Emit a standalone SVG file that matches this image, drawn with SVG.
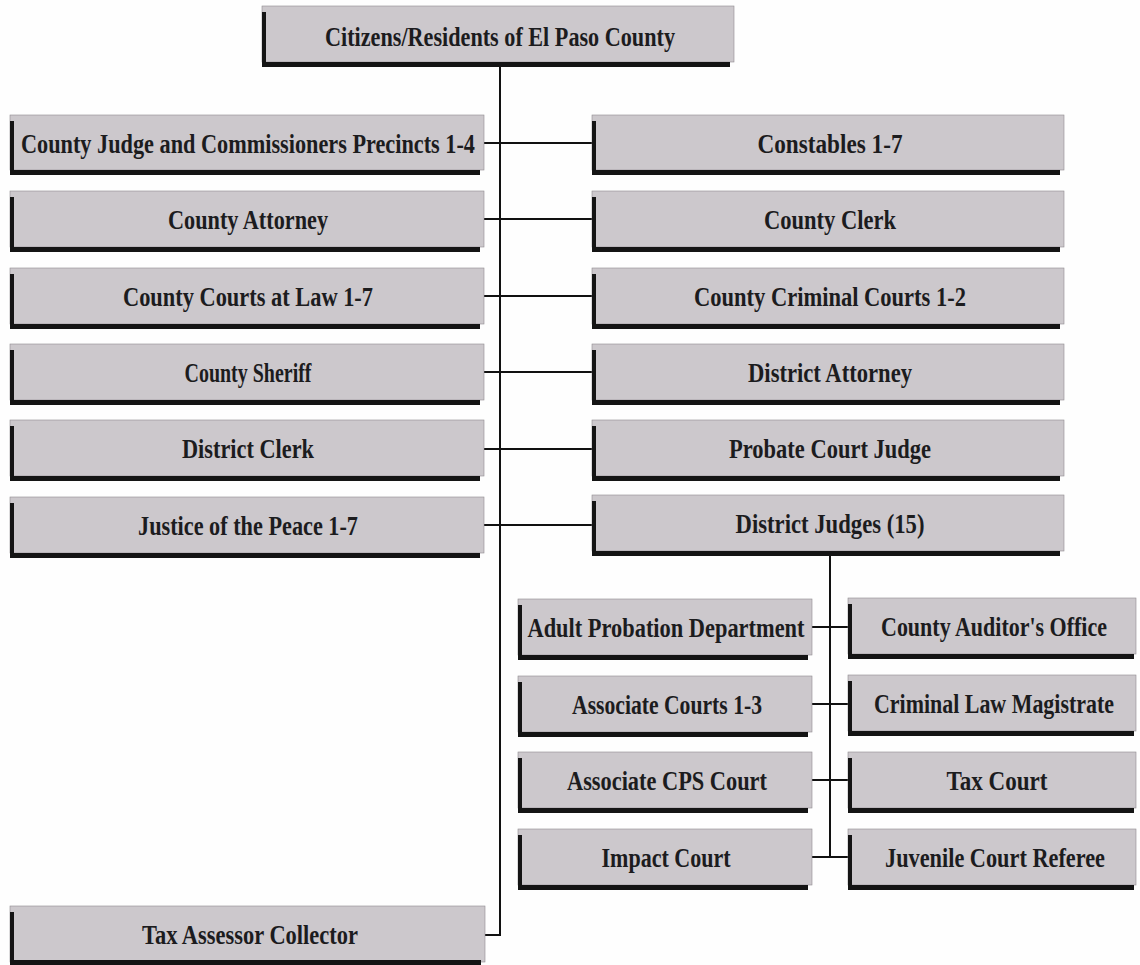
<svg xmlns="http://www.w3.org/2000/svg" width="1140" height="965" viewBox="0 0 1140 965">
<defs>
<style>
.body{fill:#ccc8cc;stroke:#8f8b8f;stroke-width:0.6}
.edge{fill:#141414}
.lbl{font-family:"Liberation Serif","Times New Roman",serif;font-weight:bold;font-size:27px;fill:#1c1c1e;text-anchor:middle}
.con{stroke:#111;stroke-width:2;fill:none}
</style>
</defs>
<rect width="1140" height="965" fill="#fefefe"/>
<g id="connectors">
<path class="con" d="M500,67 V935 H485"/>
<path class="con" d="M484,143 H592 M484,219 H592 M484,296 H592 M484,372 H592 M484,449 H592 M484,525 H592"/>
<path class="con" d="M830,555 V857 M812,627 H848 M812,704 H848 M812,780 H848 M812,857 H848"/>
</g>
<g id="n-citizens"><rect class="body" x="262" y="6" width="472" height="56"/><rect class="edge" x="262" y="12" width="4" height="55"/><rect class="edge" x="262" y="62" width="468" height="5"/><text class="lbl" x="500" y="46" textLength="350" lengthAdjust="spacingAndGlyphs">Citizens/Residents of El Paso County</text></g>
<g id="n-countyjudge"><rect class="body" x="10" y="115" width="474" height="55"/><rect class="edge" x="10" y="121" width="4" height="54"/><rect class="edge" x="10" y="170" width="470" height="5"/><text class="lbl" x="248" y="153" textLength="454" lengthAdjust="spacingAndGlyphs">County Judge and Commissioners Precincts 1-4</text></g>
<g id="n-constables"><rect class="body" x="592" y="115" width="472" height="55"/><rect class="edge" x="592" y="121" width="4" height="54"/><rect class="edge" x="592" y="170" width="468" height="5"/><text class="lbl" x="830" y="153" textLength="145" lengthAdjust="spacingAndGlyphs">Constables 1-7</text></g>
<g id="n-countyattorney"><rect class="body" x="10" y="191" width="474" height="56"/><rect class="edge" x="10" y="197" width="4" height="55"/><rect class="edge" x="10" y="247" width="470" height="5"/><text class="lbl" x="248" y="229" textLength="160" lengthAdjust="spacingAndGlyphs">County Attorney</text></g>
<g id="n-countyclerk"><rect class="body" x="592" y="191" width="472" height="56"/><rect class="edge" x="592" y="197" width="4" height="55"/><rect class="edge" x="592" y="247" width="468" height="5"/><text class="lbl" x="830" y="229" textLength="132" lengthAdjust="spacingAndGlyphs">County Clerk</text></g>
<g id="n-countycourts"><rect class="body" x="10" y="268" width="474" height="56"/><rect class="edge" x="10" y="274" width="4" height="55"/><rect class="edge" x="10" y="324" width="470" height="5"/><text class="lbl" x="248" y="306" textLength="250" lengthAdjust="spacingAndGlyphs">County Courts at Law 1-7</text></g>
<g id="n-criminalcourts"><rect class="body" x="592" y="268" width="472" height="56"/><rect class="edge" x="592" y="274" width="4" height="55"/><rect class="edge" x="592" y="324" width="468" height="5"/><text class="lbl" x="830" y="306" textLength="272" lengthAdjust="spacingAndGlyphs">County Criminal Courts 1-2</text></g>
<g id="n-sheriff"><rect class="body" x="10" y="344" width="474" height="56"/><rect class="edge" x="10" y="350" width="4" height="55"/><rect class="edge" x="10" y="400" width="470" height="5"/><text class="lbl" x="248" y="382" textLength="127" lengthAdjust="spacingAndGlyphs">County Sheriff</text></g>
<g id="n-districtattorney"><rect class="body" x="592" y="344" width="472" height="56"/><rect class="edge" x="592" y="350" width="4" height="55"/><rect class="edge" x="592" y="400" width="468" height="5"/><text class="lbl" x="830" y="382" textLength="164" lengthAdjust="spacingAndGlyphs">District Attorney</text></g>
<g id="n-districtclerk"><rect class="body" x="10" y="420" width="474" height="56"/><rect class="edge" x="10" y="426" width="4" height="55"/><rect class="edge" x="10" y="476" width="470" height="5"/><text class="lbl" x="248" y="458" textLength="132" lengthAdjust="spacingAndGlyphs">District Clerk</text></g>
<g id="n-probate"><rect class="body" x="592" y="420" width="472" height="56"/><rect class="edge" x="592" y="426" width="4" height="55"/><rect class="edge" x="592" y="476" width="468" height="5"/><text class="lbl" x="830" y="458" textLength="202" lengthAdjust="spacingAndGlyphs">Probate Court Judge</text></g>
<g id="n-justice"><rect class="body" x="10" y="497" width="474" height="56"/><rect class="edge" x="10" y="503" width="4" height="55"/><rect class="edge" x="10" y="553" width="470" height="5"/><text class="lbl" x="248" y="535" textLength="220" lengthAdjust="spacingAndGlyphs">Justice of the Peace 1-7</text></g>
<g id="n-districtjudges"><rect class="body" x="592" y="495" width="472" height="56"/><rect class="edge" x="592" y="501" width="4" height="55"/><rect class="edge" x="592" y="551" width="468" height="5"/><text class="lbl" x="830" y="533" textLength="189" lengthAdjust="spacingAndGlyphs">District Judges (15)</text></g>
<g id="n-adultprobation"><rect class="body" x="518" y="599" width="294" height="56"/><rect class="edge" x="518" y="605" width="4" height="55"/><rect class="edge" x="518" y="655" width="290" height="5"/><text class="lbl" x="666" y="637" textLength="277" lengthAdjust="spacingAndGlyphs">Adult Probation Department</text></g>
<g id="n-auditor"><rect class="body" x="848" y="598" width="288" height="56"/><rect class="edge" x="848" y="604" width="4" height="55"/><rect class="edge" x="848" y="654" width="286" height="5"/><text class="lbl" x="994" y="636" textLength="226" lengthAdjust="spacingAndGlyphs">County Auditor's Office</text></g>
<g id="n-associatecourts"><rect class="body" x="518" y="676" width="294" height="56"/><rect class="edge" x="518" y="682" width="4" height="55"/><rect class="edge" x="518" y="732" width="290" height="5"/><text class="lbl" x="667" y="714" textLength="190" lengthAdjust="spacingAndGlyphs">Associate Courts 1-3</text></g>
<g id="n-magistrate"><rect class="body" x="848" y="675" width="288" height="56"/><rect class="edge" x="848" y="681" width="4" height="55"/><rect class="edge" x="848" y="731" width="286" height="5"/><text class="lbl" x="994" y="713" textLength="240" lengthAdjust="spacingAndGlyphs">Criminal Law Magistrate</text></g>
<g id="n-cps"><rect class="body" x="518" y="752" width="294" height="56"/><rect class="edge" x="518" y="758" width="4" height="55"/><rect class="edge" x="518" y="808" width="290" height="5"/><text class="lbl" x="667" y="790" textLength="200" lengthAdjust="spacingAndGlyphs">Associate CPS Court</text></g>
<g id="n-taxcourt"><rect class="body" x="848" y="752" width="288" height="56"/><rect class="edge" x="848" y="758" width="4" height="55"/><rect class="edge" x="848" y="808" width="286" height="5"/><text class="lbl" x="997" y="790" textLength="101" lengthAdjust="spacingAndGlyphs">Tax Court</text></g>
<g id="n-impact"><rect class="body" x="518" y="829" width="294" height="56"/><rect class="edge" x="518" y="835" width="4" height="55"/><rect class="edge" x="518" y="885" width="290" height="5"/><text class="lbl" x="666" y="867" textLength="129" lengthAdjust="spacingAndGlyphs">Impact Court</text></g>
<g id="n-juvenile"><rect class="body" x="848" y="829" width="288" height="56"/><rect class="edge" x="848" y="835" width="4" height="55"/><rect class="edge" x="848" y="885" width="286" height="5"/><text class="lbl" x="995" y="867" textLength="220" lengthAdjust="spacingAndGlyphs">Juvenile Court Referee</text></g>
<g id="n-taxassessor"><rect class="body" x="10" y="906" width="475" height="56"/><rect class="edge" x="10" y="912" width="4" height="53"/><rect class="edge" x="10" y="960" width="471" height="5"/><text class="lbl" x="250" y="944" textLength="216" lengthAdjust="spacingAndGlyphs">Tax Assessor Collector</text></g>
</svg>
